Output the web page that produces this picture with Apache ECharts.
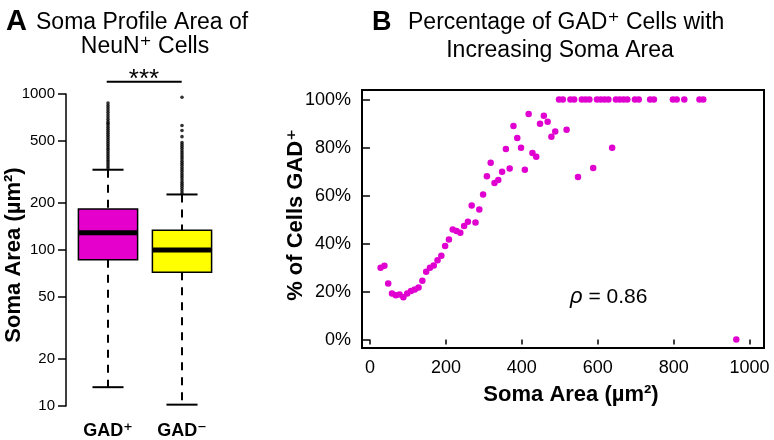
<!DOCTYPE html>
<html><head><meta charset="utf-8">
<script src="https://cdn.jsdelivr.net/npm/echarts@6/dist/echarts.min.js"></script>
<style>html,body{margin:0;padding:0;background:#fff}#c{width:774px;height:440px}</style>
</head><body><div id="c"></div>
<script>
// ---- Panel A: box plot data (soma area, µm², log scale) ----
const boxCategories = ['GAD\u207A', 'GAD\u207B'];
const whiskerLow  = [13.2, 10.2];
const quartile1   = [86.7, 72];
const medians     = [129, 100];
const quartile3   = [183, 134];
const whiskerHigh = [327, 227];
const boxColors   = ['#e600cc', '#ffff00'];
const outliersGadPos = [335, 345, 356, 367, 378, 390, 402, 414, 427, 440, 453, 467, 481, 496, 511, 527, 543, 560, 577, 595, 613, 632, 650, 665, 688, 712, 737, 763, 789, 816, 843, 874];
const outliersGadNeg = [232, 240, 248, 256, 264, 272, 281, 290, 299, 308, 318, 328, 338, 349, 360, 371, 383, 395, 407, 420, 433, 447, 461, 475, 489, 533, 584, 628, 953];
const logTicks = [10, 20, 50, 100, 200, 500, 1000];

// ---- Panel B: % of cells GAD+ vs soma area ----
const somaArea = [28, 38, 48, 58, 68, 78, 88, 98, 108, 118, 128, 138, 148, 158, 168, 178, 188, 198, 208, 218, 228, 238, 248, 258, 268, 278, 288, 298, 308, 318, 328, 338, 348, 358, 368, 378, 388, 398, 408, 418, 428, 438, 448, 458, 468, 478, 488, 498, 508, 518, 528, 538, 548, 558, 568, 578, 588, 598, 608, 618, 628, 638, 648, 658, 668, 678, 698, 708, 738, 748, 798, 808, 828, 868, 878, 965];
const pctGad   = [29.9, 30.8, 23.4, 19.2, 18.5, 18.8, 17.6, 19.2, 20.3, 20.9, 21.7, 24.5, 28.3, 29.9, 30.9, 33.1, 34.9, 39.0, 41.7, 45.9, 45.2, 44.5, 47.3, 49.1, 55.9, 48.8, 54.2, 60.5, 68.1, 73.7, 65.3, 66.5, 69.9, 79.4, 71.3, 89.0, 84.0, 79.9, 70.8, 94.0, 77.8, 76.2, 89.9, 93.3, 90.8, 84.5, 86.7, 100, 100, 87.4, 100, 100, 67.7, 100, 100, 100, 71.5, 100, 100, 100, 100, 79.9, 100, 100, 100, 100, 100, 100, 100, 100, 100, 100, 100, 100, 100, 0];
const xTicks = [0, 200, 400, 600, 800, 1000];
const yTicks = [0, 20, 40, 60, 80, 100];
const rhoText = '0.86';

const FONT = '"Liberation Sans", Arial, "DejaVu Sans", sans-serif';

const boxData = boxCategories.map((c, i) => [i, whiskerLow[i], quartile1[i], medians[i], quartile3[i], whiskerHigh[i]]);
const outlierData = outliersGadPos.map(v => [0, v]).concat(outliersGadNeg.map(v => [1, v]));
const scatterData = somaArea.map((x, i) => [x, pctGad[i]]);

function renderBox(params, api) {
  const c = api.value(0);
  const lo = api.coord([c, api.value(1)]);
  const q1 = api.coord([c, api.value(2)]);
  const md = api.coord([c, api.value(3)]);
  const q3 = api.coord([c, api.value(4)]);
  const hi = api.coord([c, api.value(5)]);
  const band = api.size([1, 0])[0];
  const half = band * 0.4;
  const cap = band * 0.21;
  const x = q1[0];
  const color = boxColors[params.dataIndex];
  const dash = {stroke: '#000', lineWidth: 2, lineDash: [8, 7]};
  const solid = {stroke: '#000', lineWidth: 2};
  return {type: 'group', children: [
    {type: 'line', shape: {x1: x, y1: hi[1], x2: x, y2: q3[1]}, style: dash},
    {type: 'line', shape: {x1: x, y1: q1[1], x2: x, y2: lo[1]}, style: dash},
    {type: 'line', shape: {x1: x - cap, y1: hi[1], x2: x + cap, y2: hi[1]}, style: solid},
    {type: 'line', shape: {x1: x - cap, y1: lo[1], x2: x + cap, y2: lo[1]}, style: solid},
    {type: 'rect', shape: {x: x - half, y: q3[1], width: 2 * half, height: q1[1] - q3[1]}, style: {fill: color, stroke: '#000', lineWidth: 1.5}},
    {type: 'line', shape: {x1: x - half, y1: md[1], x2: x + half, y2: md[1]}, style: {stroke: '#000', lineWidth: 5}}
  ]};
}

const plain = v => String(Math.round(v));

const chart = echarts.init(document.getElementById('c'), null, {renderer: 'canvas'});
chart.setOption({
  animation: false,
  backgroundColor: '#fff',
  textStyle: {fontFamily: FONT},
  grid: [
    {left: 71, top: 94, width: 148, height: 317.7},
    {left: 362, top: 90, width: 402, height: 258, show: true, borderColor: '#000', borderWidth: 2, backgroundColor: 'transparent'}
  ],
  xAxis: [
    {gridIndex: 0, type: 'category', data: boxCategories,
     axisLine: {show: false}, axisTick: {show: false},
     axisLabel: {fontFamily: FONT, fontWeight: 'bold', fontSize: 18, color: '#000', margin: 16}},
    {gridIndex: 1, type: 'value', min: -21, max: 1038,
     splitLine: {show: false}, axisLine: {show: false},
     axisTick: {show: true, length: 5, customValues: xTicks, lineStyle: {color: '#000', width: 1.5}},
     axisLabel: {customValues: xTicks, formatter: plain, fontFamily: FONT, fontSize: 18, color: '#000', margin: 11}}
  ],
  yAxis: [
    {gridIndex: 0, type: 'log', logBase: 10, min: 10, max: 1000, offset: 5,
     splitLine: {show: false},
     axisLine: {show: true, lineStyle: {color: '#000', width: 1.5}},
     axisTick: {show: true, length: 8, customValues: logTicks, lineStyle: {color: '#000', width: 1.5}},
     axisLabel: {customValues: logTicks, formatter: plain, fontFamily: FONT, fontSize: 15, color: '#000', margin: 11}},
    {gridIndex: 1, type: 'value', min: -3.5, max: 104,
     splitLine: {show: false}, axisLine: {show: false},
     axisTick: {show: true, length: 8, customValues: yTicks, lineStyle: {color: '#000', width: 1.5}},
     axisLabel: {customValues: yTicks, formatter: v => Math.round(v) + '%', fontFamily: FONT, fontSize: 18, color: '#000', margin: 11}}
  ],
  series: [
    {type: 'custom', xAxisIndex: 0, yAxisIndex: 0, data: boxData, renderItem: renderBox,
     encode: {x: 0, y: [1, 2, 3, 4, 5]}, z: 2},
    {type: 'scatter', xAxisIndex: 0, yAxisIndex: 0, data: outlierData, symbolSize: 3.6,
     itemStyle: {color: '#000'}, z: 3},
    {type: 'scatter', xAxisIndex: 1, yAxisIndex: 1, data: scatterData, symbolSize: 6.5,
     itemStyle: {color: '#e000d0', opacity: 1}, z: 3}
  ],
  graphic: [
    {type: 'text', left: 6, top: 7, style: {text: 'A', font: 'bold 29px ' + FONT, fill: '#000'}},
    {type: 'text', left: 36, top: 11, style: {text: 'Soma Profile Area of', font: '23px ' + FONT, fill: '#000'}},
    {type: 'text', x: 145, y: 47, style: {text: 'NeuN\u207A Cells', font: '23px ' + FONT, fill: '#000', align: 'center', verticalAlign: 'middle'}},
    {type: 'text', x: 144, y: 80, style: {text: '***', font: '26px ' + FONT, fill: '#000', align: 'center', verticalAlign: 'middle'}},
    {type: 'line', shape: {x1: 106.7, y1: 81.7, x2: 181.7, y2: 81.7}, style: {stroke: '#000', lineWidth: 2}},
    {type: 'text', x: 14, y: 255, rotation: Math.PI / 2, style: {text: 'Soma Area (\u00B5m\u00B2)', font: 'bold 22px ' + FONT, fill: '#000', align: 'center', verticalAlign: 'middle'}},
    {type: 'text', left: 372, top: 9, style: {text: 'B', font: 'bold 27px ' + FONT, fill: '#000'}},
    {type: 'text', left: 408, top: 11, style: {text: 'Percentage of GAD\u207A Cells with', font: '23px ' + FONT, fill: '#000'}},
    {type: 'text', x: 560, y: 51, style: {text: 'Increasing Soma Area', font: '23px ' + FONT, fill: '#000', align: 'center', verticalAlign: 'middle'}},
    {type: 'text', x: 296, y: 215, rotation: Math.PI / 2, style: {text: '% of Cells GAD\u207A', font: 'bold 22px ' + FONT, fill: '#000', align: 'center', verticalAlign: 'middle'}},
    {type: 'text', x: 571, y: 395, style: {text: 'Soma Area (\u00B5m\u00B2)', font: 'bold 22px ' + FONT, fill: '#000', align: 'center', verticalAlign: 'middle'}},
    {type: 'text', x: 570, y: 297, style: {text: '{r|\u03C1} = ' + rhoText, rich: {r: {font: 'italic 22px ' + FONT, fill: '#000'}}, font: '21px ' + FONT, fill: '#000', align: 'left', verticalAlign: 'middle'}}
  ]
});
</script>
</body></html>
